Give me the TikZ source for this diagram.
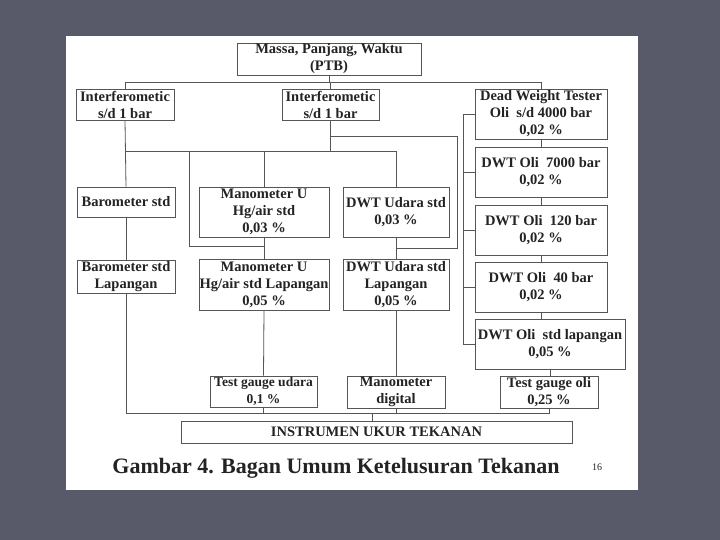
\documentclass[tikz,border=0pt]{standalone}
\usepackage{fontspec}
\setmainfont{Liberation Serif}
\usetikzlibrary{calc}
\definecolor{bgslate}{RGB}{88,90,106}
\definecolor{linec}{RGB}{85,85,85}
\definecolor{textc}{RGB}{35,35,35}
\tikzset{
  bx/.style={draw=linec, line width=0.8pt, fill=white, align=center, inner sep=0pt,
    text=textc, font=\fontsize{14.5}{17}\selectfont\bfseries},
  cn/.style={draw=linec, line width=0.8pt},
}
\begin{document}
\begin{tikzpicture}[x=1pt,y=-1pt]
\useasboundingbox (0,0) rectangle (720,540);
\fill[bgslate] (0,0) rectangle (720,540);
\fill[white] (66,36) rectangle (638,490);

% boxes
\node[bx, minimum width=184pt, minimum height=32pt] (top) at (329,59) {Massa, Panjang, Waktu\\(PTB)};
\node[bx, minimum width=98pt, minimum height=31pt] (il) at (125,104.5) {Interferometic\\s/d 1 bar};
\node[bx, minimum width=97pt, minimum height=31pt] (im) at (330.5,104.5) {Interferometic\\s/d 1 bar};
\node[bx, minimum width=132pt, minimum height=50pt] (dwt) at (541,114) {Dead Weight Tester\\Oli~ s/d 4000 bar\\0,02 \%};
\node[bx, minimum width=132pt, minimum height=50pt] (d7) at (541,172) {DWT Oli~ 7000 bar\\0,02 \%};
\node[bx, minimum width=132pt, minimum height=50pt] (d120) at (541,230) {DWT Oli~ 120 bar\\0,02 \%};
\node[bx, minimum width=132pt, minimum height=50pt] (d40) at (541,287.5) {DWT Oli~ 40 bar\\0,02 \%};
\node[bx, minimum width=150pt, minimum height=50pt] (dlap) at (550,344) {DWT Oli~ std lapangan\\0,05 \%};
\node[bx, minimum width=98pt, minimum height=30pt] (bs) at (126,202) {Barometer std};
\node[bx, minimum width=130pt, minimum height=50pt] (mu) at (264,212) {Manometer U\\Hg/air std\\0,03 \%};
\node[bx, minimum width=106pt, minimum height=50pt] (du) at (396,212) {DWT Udara std\\0,03 \%};
\node[bx, minimum width=98pt, minimum height=33pt] (bl) at (126,276.5) {Barometer std\\Lapangan};
\node[bx, minimum width=130pt, minimum height=51pt] (ml) at (264,284.5) {Manometer U\\Hg/air std Lapangan\\0,05 \%};
\node[bx, minimum width=106pt, minimum height=51pt] (dl) at (396,284.5) {DWT Udara std\\Lapangan\\0,05 \%};
\node[bx, minimum width=107pt, minimum height=31pt, font=\fontsize{13.5}{17}\selectfont\bfseries] (tu) at (263.5,391.5) {Test gauge udara\\0,1 \%};
\node[bx, minimum width=98pt, minimum height=32pt] (md) at (396,392) {Manometer\\digital};
\node[bx, minimum width=98pt, minimum height=32pt] (to) at (549,392) {Test gauge oli\\0,25 \%};
\node[bx, minimum width=391pt, minimum height=22pt] (ins) at (376.5,432) {INSTRUMEN UKUR TEKANAN};

% caption
\node[text=textc, font=\fontsize{22}{24}\selectfont\bfseries] (cap) at (336,468) {Gambar 4. Bagan Umum Ketelusuran Tekanan};
\node[text=textc, font=\fontsize{10}{12}\selectfont] (pg) at (597,467) {16};

% bus coordinates
\coordinate (bus1) at (0,82);
\coordinate (bus2) at (0,151);
\coordinate (bus3) at (0,413);
\coordinate (loopL) at (189,246);
\coordinate (rA) at (457,136);
\coordinate (rB) at (457,248);
\coordinate (rc) at (463,0);
\coordinate (insj) at (372,413);

% top level
\draw[cn] (top.south) -- (top.south |- bus1);
\draw[cn] (il.north) -- (il.north |- bus1) -| (dwt.north);
\draw[cn] (im.north) -- (im.north |- bus1);

% left trunk
\draw[cn] (il.south) -- (bs.north);
\draw[cn] (bs.south) -- (bl.north);
\draw[cn] (bl.south) -- (bl.south |- bus3) -| (to.south);

% middle bus
\draw[cn] (im.south) -- (im.south |- bus2);
\draw[cn] (bs.north |- bus2) -- (du.north |- bus2);
\draw[cn] (mu.north) -- (mu.north |- bus2);
\draw[cn] (du.north) -- (du.north |- bus2);
\draw[cn] (loopL |- bus2) -- (loopL) -- (mu.south |- loopL);
\draw[cn] (im.south |- rA) -- (rA) -- (rB) -- (du.south |- rB);

% middle chains
\draw[cn] (mu.south) -- (ml.north);
\draw[cn] (ml.south) -- (tu.north);
\draw[cn] (tu.south) -- (tu.south |- bus3);
\draw[cn] (du.south) -- (dl.north);
\draw[cn] (dl.south) -- (md.north);
\draw[cn] (md.south) -- (md.south |- bus3);
\draw[cn] (insj) -- (insj |- ins.north);

% right column
\draw[cn] (dwt.west) -- (rc |- dwt.west) -- (rc |- dlap.west) -- (dlap.west);
\draw[cn] (d7.west) -- (rc |- d7.west);
\draw[cn] (d120.west) -- (rc |- d120.west);
\draw[cn] (d40.west) -- (rc |- d40.west);
\draw[cn] (dwt.south) -- (d7.north);
\draw[cn] (d7.south) -- (d120.north);
\draw[cn] (d120.south) -- (d40.north);
\draw[cn] (d40.south) -- (d40.south |- dlap.north);
\draw[cn] (dlap.south) -- (dlap.south |- to.north);
\end{tikzpicture}
\end{document}
